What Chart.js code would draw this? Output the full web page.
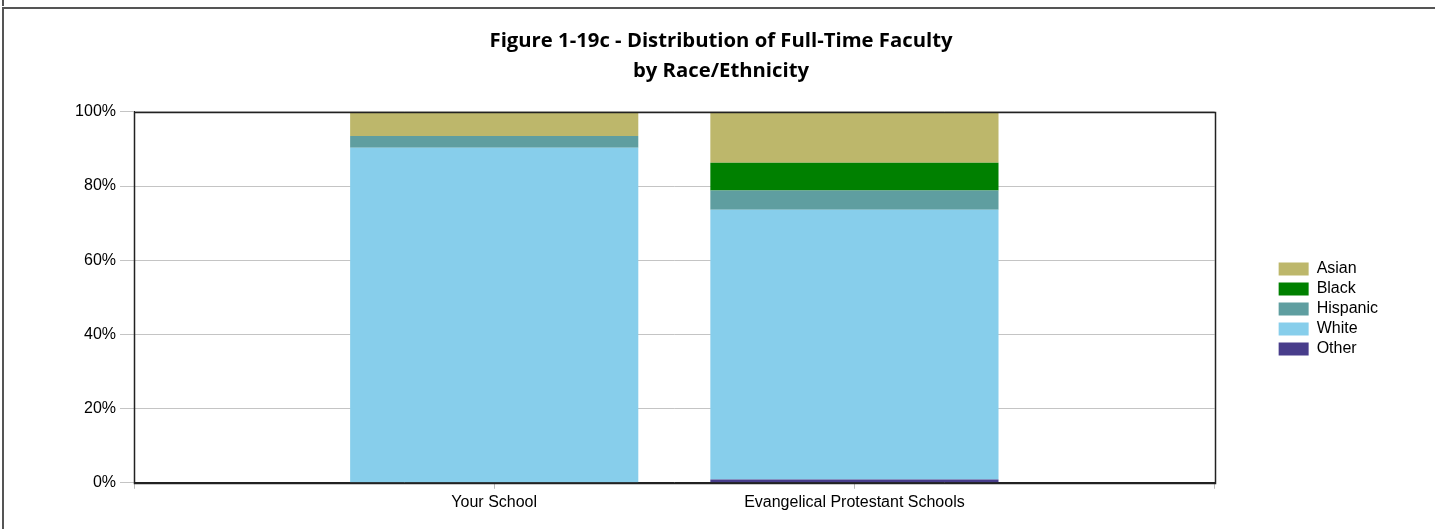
<!DOCTYPE html>
<html>
<head>
<meta charset="utf-8">
<script src="https://cdn.jsdelivr.net/npm/chart.js@4.4.1/dist/chart.umd.min.js"></script>
<style>
  html, body { margin: 0; padding: 0; background: #fff; overflow: hidden; }
  #wrap { position: absolute; left: 0; top: 0; width: 1435px; height: 529px; }
  #frame { position: absolute; left: 2px; top: 7px; width: 1500px; height: 600px;
           border-top: 2px solid #555; border-left: 2px solid #555; pointer-events: none; }
  #stub { position: absolute; left: 2px; top: 0; width: 2px; height: 6px; background: #555; }
</style>
</head>
<body>
<div id="wrap"><canvas id="c" width="1435" height="529"></canvas></div>
<div id="frame"></div>
<div id="stub"></div>
<script>
const categories = ['Your School', 'Evangelical Protestant Schools'];
const otherVals    = [0,   0.9];
const whiteVals    = [90.3, 72.7];
const hispanicVals = [3.2,  5.2];
const blackVals    = [0,    7.45];
const asianVals    = [6.5,  13.75];
const yTicks = [0, 20, 40, 60, 80, 100];

const toPoints = arr => arr.map((v, i) => ({ x: i, y: v }));

const frame = {
  id: 'frame',
  afterDatasetsDraw(chart) {
    const a = chart.chartArea, ctx = chart.ctx;
    ctx.save();
    ctx.strokeStyle = '#222';
    ctx.lineWidth = 1.5;
    ctx.strokeRect(Math.round(a.left) + 0.5, Math.round(a.top) + 0.5,
                   Math.round(a.right - a.left), Math.round(a.bottom - a.top));
    ctx.restore();
  }
};

new Chart(document.getElementById('c'), {
  type: 'bar',
  data: {
    datasets: [
      { label: 'Other',    data: toPoints(otherVals),    backgroundColor: '#483D8B' },
      { label: 'White',    data: toPoints(whiteVals),    backgroundColor: '#87CEEB' },
      { label: 'Hispanic', data: toPoints(hispanicVals), backgroundColor: '#5F9EA0' },
      { label: 'Black',    data: toPoints(blackVals),    backgroundColor: '#008000' },
      { label: 'Asian',    data: toPoints(asianVals),    backgroundColor: '#BDB76B' }
    ]
  },
  options: {
    responsive: false,
    animation: false,
    devicePixelRatio: 1,
    categoryPercentage: 0.8,
    barPercentage: 1,
    layout: { padding: { left: 54, right: 47, top: 0, bottom: 13 } },
    plugins: {
      title: {
        display: true,
        text: ['Figure 1-19c - Distribution of Full-Time Faculty', 'by Race/Ethnicity'],
        color: '#000',
        font: { family: '"Open Sans", sans-serif', size: 20.3, weight: 'bold', lineHeight: 1.45 },
        padding: { top: 27, bottom: 26 }
      },
      legend: {
        position: 'right',
        align: 'start',
        reverse: true,
        title: { display: true, text: ' ', font: { size: 1, lineHeight: 1 }, padding: { top: 256, bottom: 0 } },
        labels: {
          boxWidth: 30, boxHeight: 13, padding: 4,
          color: '#000',
          font: { family: '"Liberation Sans", Arial, sans-serif', size: 16 }
        }
      },
      tooltip: { enabled: false }
    },
    scales: {
      x: {
        type: 'linear',
        stacked: true,
        min: -1, max: categories.length,
        offset: false,
        grid: { offset: false, drawOnChartArea: false, drawTicks: true, tickLength: 6, color: '#bbb' },
        border: { display: true, color: '#222' },
        ticks: {
          stepSize: 1,
          color: '#000',
          padding: 4,
          maxRotation: 0,
          autoSkip: false,
          font: { family: '"Liberation Sans", Arial, sans-serif', size: 16 },
          callback: v => (categories[v] !== undefined ? categories[v] : '')
        }
      },
      y: {
        stacked: true,
        min: 0, max: 100,
        afterBuildTicks: s => { s.ticks = yTicks.map(v => ({ value: v })); },
        afterFit: s => { s.width = 80; },
        grid: { color: '#c4c4c4', tickLength: 14 },
        border: { display: true, color: '#222' },
        ticks: {
          color: '#000',
          padding: 4,
          font: { family: '"Liberation Sans", Arial, sans-serif', size: 16 },
          callback: v => v + '%'
        }
      },
      y2: {
        position: 'right',
        min: 0, max: 100,
        grid: { display: false },
        border: { display: false },
        ticks: { display: false },
        afterFit: s => { s.width = 60; }
      }
    }
  },
  plugins: [frame]
});
</script>
</body>
</html>
